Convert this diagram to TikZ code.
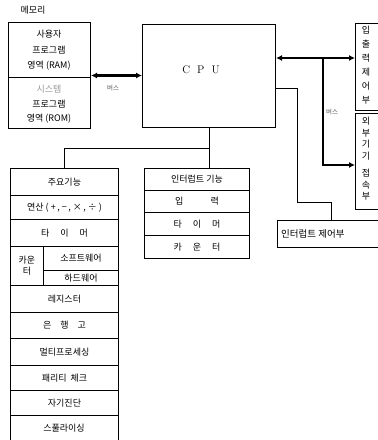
\documentclass[tikz,border=0pt]{standalone}
\usepackage{fontspec}
\newfontfamily\kr{Noto Sans CJK KR}
\usetikzlibrary{arrows.meta,calc}
\begin{document}
\begin{tikzpicture}[x=1pt,y=-1pt,
  box/.style={draw, line width=1pt, rectangle, inner sep=0pt, anchor=north west},
  lbl/.style={font=\kr\fontsize{9}{11}\selectfont, inner sep=0pt, align=center},
  vlbl/.style={font=\kr\fontsize{9}{14}\selectfont, inner sep=0pt, align=center, anchor=north},
  small/.style={font=\kr\fontsize{6.5}{7}\selectfont, inner sep=0pt, text=black!65},
  bus/.style={line width=2.4pt, {Latex[length=6pt,width=6pt]}-{Latex[length=6pt,width=6pt]}},
  busone/.style={line width=2.4pt, -{Latex[length=6pt,width=6pt]}},
  wire/.style={line width=0.9pt},
]
\useasboundingbox (0,0) rectangle (378,440);
\clip (0,0) rectangle (378,440);

% memory
\node[lbl] (memt) at (33,10) {메모리};
\node[box, minimum width=82pt, minimum height=106pt] (mem) at (8,22) {};
\draw[wire] (mem.west |- 0,77) -- (mem.east |- 0,77);
\node[lbl] (ram1) at (49,34) {사용자};
\node[lbl] (ram2) at (49,50) {프로그램};
\node[lbl] (ram3) at (49,66) {영역 (RAM)};
\node[lbl, text=black!40] (rom1) at (49,89) {시스템};
\node[lbl] (rom2) at (49,104) {프로그램};
\node[lbl] (rom3) at (49,119) {영역 (ROM)};

% CPU
\node[box, minimum width=133pt, minimum height=103pt] (cpu) at (142,24) {};
\node[font=\fontsize{11}{13}\selectfont, inner sep=0pt] (cput) at (201,70) {C\hspace{7pt}P\hspace{7pt}U};

\draw[bus] (mem.east) -- (cpu.west |- mem.east);
\node[small] (busa) at (113,88) {버스};

% right side boxes
\node[box, minimum width=40pt, minimum height=87pt] (io) at (355,23) {};
\node[vlbl] (iot) at (366,26) {입\\출\\력\\제\\어\\부};
\node[box, minimum width=40pt, minimum height=96pt] (ext) at (355,113) {};
\node[vlbl, font=\kr\fontsize{9}{11.5}\selectfont] (extt) at (366,117) {외\\부\\기\\기\\[6pt]접\\속\\부};
\node[box, minimum width=120pt, minimum height=27pt] (intc) at (277,220) {};
\node[lbl, anchor=west, font=\kr\fontsize{9.5}{11}\selectfont] (intct) at (281,233.5) {인터럽트 제어부};

\coordinate (r1) at (cpu.east |- 0,58);
\coordinate (j2) at (323,58);
\draw[bus] (r1) -- (io.west |- r1);
\draw[busone] (j2) |- (ext.west |- 0,165);
\node[small] (busb) at (332,112) {버스};

\coordinate (r2) at (cpu.east |- 0,88);
\coordinate (k1) at (297,202);
\coordinate (k2) at ($(intc.north west)+(54,0)$);
\draw[wire] (r2) -| (k1) -| (k2);

% main functions table
\node[box, minimum width=108pt, minimum height=27pt] (m0) at (10,168) {};
\node[lbl] (m0t) at (m0.center) {주요기능};
\node[box, minimum width=108pt, minimum height=24pt] (m1) at (10,195) {};
\node[lbl] (m1t) at (m1.center) {연산 ( +\,, −\,, ×\,, ÷ )};
\node[box, minimum width=108pt, minimum height=27pt] (m2) at (10,219) {};
\node[lbl] (m2t) at (m2.center) {타\quad\ 이\quad\ 머};
\node[box, minimum width=33pt, minimum height=39pt] (m3a) at (10,246) {};
\node[lbl] (m3at) at (m3a.center) {카운\\터};
\node[box, minimum width=75pt, minimum height=24pt] (m3b) at (43,246) {};
\node[lbl] (m3bt) at (m3b.center) {소프트웨어};
\node[box, minimum width=75pt, minimum height=15pt] (m3c) at (43,270) {};
\node[lbl] (m3ct) at (m3c.center) {하드웨어};
\node[box, minimum width=108pt, minimum height=27pt] (m4) at (10,285) {};
\node[lbl] (m4t) at (m4.center) {레지스터};
\node[box, minimum width=108pt, minimum height=26pt] (m5) at (10,312) {};
\node[lbl] (m5t) at (m5.center) {은\quad 행\quad 고};
\node[box, minimum width=108pt, minimum height=27pt] (m6) at (10,338) {};
\node[lbl] (m6t) at (m6.center) {멀티프로세싱};
\node[box, minimum width=108pt, minimum height=25pt] (m7) at (10,365) {};
\node[lbl] (m7t) at (m7.center) {패리티\ \ 체크};
\node[box, minimum width=108pt, minimum height=25pt] (m8) at (10,390) {};
\node[lbl] (m8t) at (m8.center) {자기진단};
\node[box, minimum width=108pt, minimum height=35pt] (m9) at (10,415) {};
\node[lbl] (m9t) at (64,428) {스풀라이싱};

% interrupt functions table
\node[box, minimum width=105pt, minimum height=22pt] (i0) at (144,168) {};
\node[lbl] (i0t) at (i0.center) {인터럽트 기능};
\node[box, minimum width=105pt, minimum height=22pt] (i1) at (144,190) {};
\node[lbl] (i1t) at (i1.center) {입\qquad\quad 력};
\node[box, minimum width=105pt, minimum height=23pt] (i2) at (144,212) {};
\node[lbl] (i2t) at (i2.center) {타\quad\ 이\quad\ 머};
\node[box, minimum width=105pt, minimum height=23pt] (i3) at (144,235) {};
\node[lbl] (i3t) at (i3.center) {카\quad\ 운\quad\ 터};

% CPU bottom connectors
\draw[wire] (cpu.south) -- (cpu.south |- i0.north);
\coordinate (j3) at (cpu.south |- 0,148);
\draw[wire] (j3) -| (m0.north);
\end{tikzpicture}
\end{document}
